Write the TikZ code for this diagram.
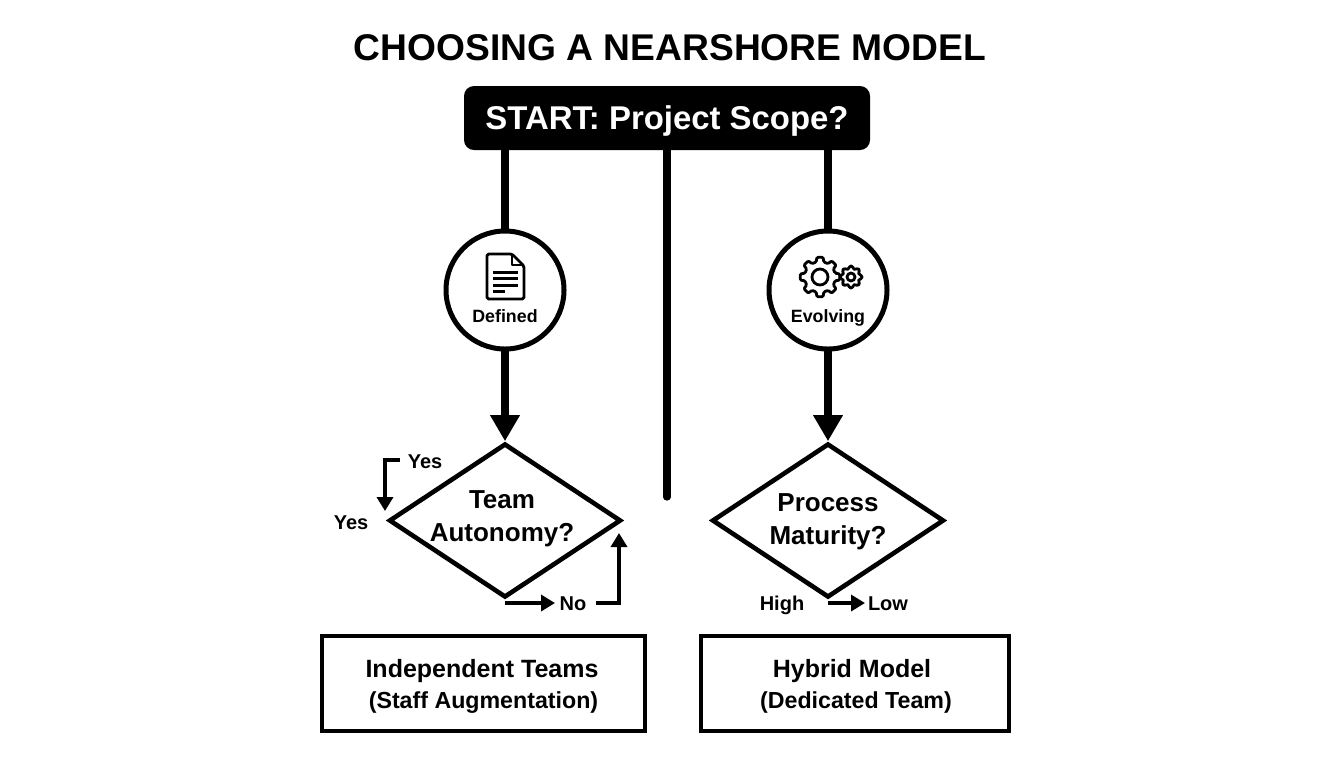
\documentclass[tikz,border=0pt]{standalone}
\usepackage{fontspec}
\setmainfont{Liberation Sans}
\usetikzlibrary{arrows.meta,shapes.geometric,calc}
\tikzset{
  x=0.5pt,y=-0.5pt,
  lbl/.style={font=\bfseries\fontsize{10}{12}\selectfont,inner sep=0pt,text=black},
  clbl/.style={font=\bfseries\fontsize{8.9}{11}\selectfont,inner sep=0pt},
  dtext/.style={font=\bfseries\fontsize{13}{15}\selectfont,inner sep=0pt},
  btitle/.style={font=\bfseries\fontsize{12.5}{15}\selectfont,inner sep=0pt},
  bsub/.style={font=\bfseries\fontsize{11.6}{14}\selectfont,inner sep=0pt},
  trunk/.style={line width=3.6pt},
  bigarrow/.style={line width=3.6pt,-{Triangle[length=13pt,width=14pt]}},
  thin arrow/.style={line width=1.9pt,-{Triangle[length=7pt,width=8pt]}},
  circ/.style={circle,draw,line width=2.5pt,fill=white,minimum size=59pt,inner sep=0pt,outer sep=0pt},
  dia/.style={diamond,draw,line width=2.3pt,fill=white,aspect=1.51,minimum width=116pt,minimum height=77pt,inner sep=0pt},
  outbox/.style={rectangle,draw,line width=2.2pt,fill=white,inner sep=0pt,outer sep=0pt},
  icon/.style={line width=1.4pt,line join=round},
}
\newcommand{\gearicon}[5]{% x,y,outer,root,hole
  \draw[icon,rounded corners=0.6pt] (#1,#2) ++(-14:#4)
    foreach \t in {0,45,...,315} {
      -- ($(#1,#2)+(\t-14:#4)$) -- ($(#1,#2)+(\t-9:#3)$) -- ($(#1,#2)+(\t+9:#3)$) -- ($(#1,#2)+(\t+14:#4)$)
    } -- cycle;
  \draw[icon] (#1,#2) circle[radius=#5];
}
\begin{document}
\begin{tikzpicture}
\useasboundingbox[fill=white] (0,0) rectangle (1344,768);

\node[font=\bfseries\fontsize{18.6}{22}\selectfont,inner sep=0pt] (title) at (670,48) {CHOOSING A NEARSHORE MODEL};

\node[rectangle,rounded corners=5pt,fill=black,minimum width=203pt,minimum height=32pt,inner sep=0pt,outer sep=0pt,draw=none] (start) at (667,118) {};
\node[text=white,inner sep=0pt,font=\bfseries\fontsize{16.45}{20}\selectfont] (starttext) at (667,121) {START: Project Scope?};

\node[circ] (defined) at (505,290) {};
\node[circ] (evolving) at (828,290) {};
\node[dia] (autonomy) at (505,520.5) {};
\node[dia] (maturity) at (828,520.5) {};
\coordinate (centerend) at (667,497);

\draw[trunk] (start.south -| defined) -- (defined.north);
\draw[trunk] (start.south -| evolving) -- (evolving.north);
\draw[trunk,line cap=round] (start.south -| centerend) -- (centerend);
\draw[bigarrow] (defined.south) -- (autonomy.north);
\draw[bigarrow] (evolving.south) -- (maturity.north);

% document icon
\draw[icon,rounded corners=0.8pt] (487,254) -- (512,254) -- (524,266) -- (524,299) -- (487,299) -- cycle;
\draw[icon] (512,254) -- (512,265) -- (524,265);
\draw[icon,line width=1.5pt] (493,272) -- (518,272) (493,278.5) -- (518,278.5) (493,285) -- (518,285) (493,291) -- (505,291);
\node[clbl] (deflabel) at (505,316) {Defined};

% gear icons
\gearicon{820}{277}{20}{15.5}{8}
\gearicon{851}{277}{11}{8.5}{4}
\node[clbl] (evolabel) at (828,318) {Evolving};

\node[dtext] (t1) at (502,500) {Team};
\node[dtext] (t2) at (502,535) {Autonomy?};
\node[dtext] (p1) at (828,503) {Process};
\node[dtext] (p2) at (828,538) {Maturity?};

\node[lbl] (yes1) at (425,462) {Yes};
\node[lbl] (yes2) at (351,522.5) {Yes};
\node[lbl] (no) at (573,603.5) {No};
\node[lbl] (high) at (782,605) {High};
\node[lbl] (low) at (888,604) {Low};

\coordinate (yesstart) at (400,460);
\coordinate (yescorner) at (385,460);
\coordinate (yesend) at (385,511);
\coordinate (nostart) at (596,603);
\coordinate (nocorner) at (619,603);
\coordinate (noend) at (619,533);
\coordinate (noarrowend) at (555,603);
\coordinate (lowarrowend) at (865,603);
\draw[thin arrow] (yesstart) -- (yescorner) -- (yesend);
\draw[thin arrow] (autonomy.south |- noarrowend) -- (noarrowend);
\draw[thin arrow] (nostart) -- (nocorner) -- (noend);
\draw[thin arrow] (maturity.south |- lowarrowend) -- (lowarrowend);

\node[outbox,minimum width=161.5pt,minimum height=47.5pt] (ind) at (483.5,683.5) {};
\node[btitle] (indt) at (482,671) {Independent Teams};
\node[bsub] (inds) at (483.5,703) {(Staff Augmentation)};
\node[outbox,minimum width=154pt,minimum height=47.5pt] (hyb) at (855,683.5) {};
\node[btitle] (hybt) at (852,671) {Hybrid Model};
\node[bsub] (hybs) at (856,702) {(Dedicated Team)};
\end{tikzpicture}
\end{document}
